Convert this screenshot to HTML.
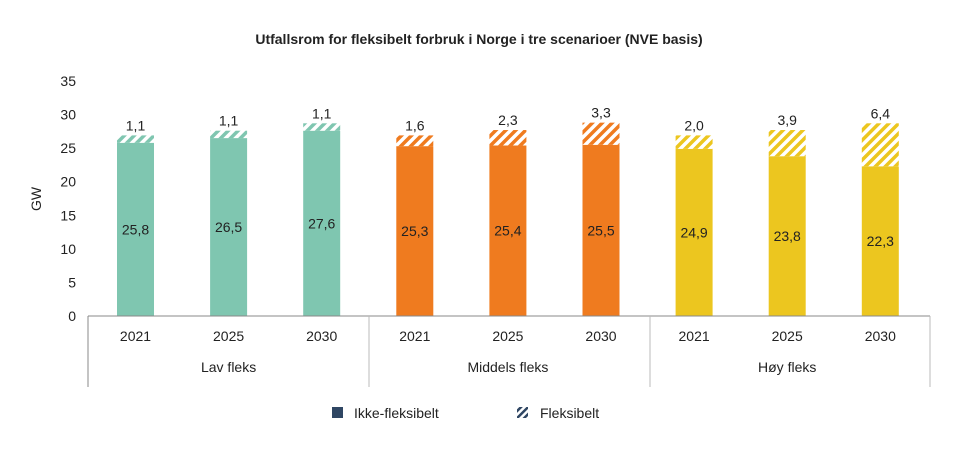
<!DOCTYPE html>
<html><head><meta charset="utf-8"><style>
body{margin:0;background:#fff;font-family:"Liberation Sans",sans-serif;}
svg text{font-family:"Liberation Sans",sans-serif;fill:#222;}
</style></head><body>
<svg id="c" width="958" height="454">
<defs>
<pattern id="hg" width="7" height="7" patternUnits="userSpaceOnUse" patternTransform="rotate(45)"><rect width="7" height="7" fill="#fff"/><rect width="3.5" height="7" fill="#7fc6b0"/></pattern>
<pattern id="ho" width="7" height="7" patternUnits="userSpaceOnUse" patternTransform="rotate(45)"><rect width="7" height="7" fill="#fff"/><rect width="3.5" height="7" fill="#ef7b1f"/></pattern>
<pattern id="hy" width="7" height="7" patternUnits="userSpaceOnUse" patternTransform="rotate(45)"><rect width="7" height="7" fill="#fff"/><rect width="3.5" height="7" fill="#ecc61f"/></pattern>
<pattern id="hd" width="5" height="5" patternUnits="userSpaceOnUse" patternTransform="rotate(45)"><rect width="5" height="5" fill="#fff"/><rect width="2.5" height="5" fill="#2f4663"/></pattern>
</defs>
<text x="479" y="44" text-anchor="middle" font-size="14" font-weight="bold">Utfallsrom for fleksibelt forbruk i Norge i tre scenarioer (NVE basis)</text>
<text transform="translate(41,199) rotate(-90)" text-anchor="middle" font-size="14">GW</text>
<g id="g"></g>
<g>
<rect x="332" y="407" width="11" height="11" fill="#2f4663"/>
<text x="354" y="418" font-size="14">Ikke-fleksibelt</text>
<rect x="517" y="407" width="11" height="11" fill="url(#hd)"/>
<text x="540" y="418" font-size="14">Fleksibelt</text>
</g>
</svg>
<script>
const years=["2021","2025","2030","2021","2025","2030","2021","2025","2030"];
const groups=["Lav fleks","Middels fleks","Høy fleks"];
const base=[25.8,26.5,27.6,25.3,25.4,25.5,24.9,23.8,22.3];
const flex=[1.1,1.1,1.1,1.6,2.3,3.3,2.0,3.9,6.4];
const yTicks=[0,5,10,15,20,25,30,35];
const ns="http://www.w3.org/2000/svg",g=document.getElementById("g");
const y=v=>316-v*6.714, x=i=>135.5+i*93.1;
const cols=["#7fc6b0","#ef7b1f","#ecc61f"],hat=["url(#hg)","url(#ho)","url(#hy)"];
function el(t,a,txt){const e=document.createElementNS(ns,t);for(const k in a)e.setAttribute(k,a[k]);if(txt!=null)e.textContent=txt;g.appendChild(e);return e;}
const f=v=>v.toFixed(1).replace(".",",");
yTicks.forEach(t=>{const e=el("text",{x:76,y:y(t)+5,"text-anchor":"end","font-size":14},t);

});
base.forEach((b,i)=>{const gi=Math.floor(i/3);
const r=el("rect",{x:x(i)-18.5,y:y(b),width:37,height:y(0)-y(b),fill:cols[gi]});


const h=el("rect",{x:x(i)-18.5,y:y(b+flex[i]),width:37,height:y(b)-y(b+flex[i]),fill:hat[gi]});


const l=el("text",{x:x(i),y:y(b/2)+5,"text-anchor":"middle","font-size":14},f(b));


const l2=el("text",{x:x(i),y:y(b+flex[i])-5,"text-anchor":"middle","font-size":14},f(flex[i]));


const yl=el("text",{x:x(i),y:341,"text-anchor":"middle","font-size":14},years[i]);

});
const ax=el("line",{x1:88,x2:930,y1:316,y2:316,stroke:"#888"});


[88,369,650,930].forEach((s,k)=>{const ln=el("line",{x1:s,x2:s,y1:316,y2:387,stroke:k==0?"#888":"#bbb"});

});
groups.forEach((n,k)=>{const t=el("text",{x:x(k*3+1),y:372,"text-anchor":"middle","font-size":14},n);

});
</script>
</body></html>
